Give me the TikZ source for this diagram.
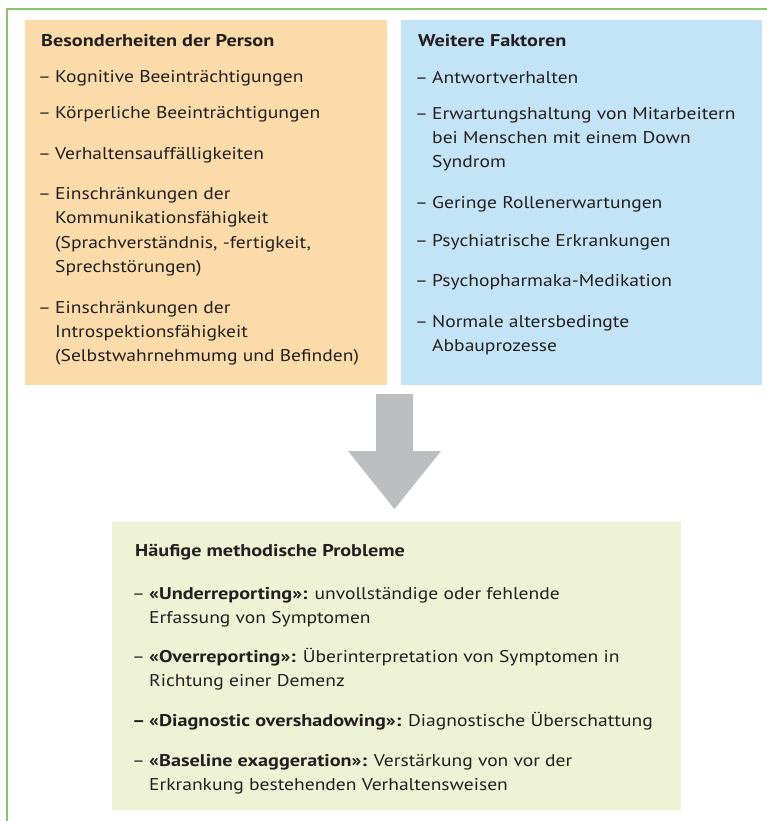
\documentclass[tikz,border=0pt]{standalone}
\usepackage{fontspec}
\setmainfont{PT Sans}[FakeStretch=1.15,BoldFeatures={FakeStretch=1.19}]
\definecolor{frameg}{HTML}{8DC36A}
\definecolor{boxor}{HTML}{FBDBA9}
\definecolor{boxbl}{HTML}{C3E4F6}
\definecolor{boxgr}{HTML}{EEF3D5}
\definecolor{arrowg}{HTML}{BCBEC0}
\definecolor{textc}{HTML}{231F20}
\newcommand\itemlines[1]{\begin{tabular}[t]{@{}l@{}}#1\end{tabular}}
\newcommand\dsh{\makebox[14pt][l]{\kern-3pt–}}
\newcommand\ind{\hspace*{14pt}}
\begin{document}
\begin{tikzpicture}[x=1pt,y=-1pt,
  panel/.style={draw=none, anchor=north west, inner sep=0pt},
  txt/.style={anchor=base west, inner sep=0pt, text=textc,
    font=\fontsize{17}{24}\selectfont},
  head/.style={txt, font=\fontsize{17}{24}\selectfont\bfseries}]
\useasboundingbox (0,0) rectangle (767,821);
% frame lines
\draw[frameg, line width=2pt] (7,821) -- (7,9) -- (767,9);
% panels
\node[panel, fill=boxor, minimum width=362pt, minimum height=365pt] (person) at (25,20) {};
\node[panel, fill=boxbl, minimum width=361pt, minimum height=365pt] (factors) at (401,20) {};
\node[panel, fill=boxgr, minimum width=569pt, minimum height=288pt] (problems) at (112,522) {};
% block arrow
\fill[arrowg] (376,394) -- (413,394) -- (413,451) -- (441,451) -- (394.5,509) -- (348,451) -- (376,451) -- cycle;
% left panel text
\node[head] (p0) at (41,47) {Besonderheiten der Person};
\node[txt] (p1) at (41,83) {\dsh Kognitive Beeinträchtigungen};
\node[txt] (p2) at (41,119) {\dsh Körperliche Beeinträchtigungen};
\node[txt] (p3) at (41,160) {\dsh Verhaltensauffälligkeiten};
\node[txt] (p4) at (41,200) {\itemlines{\dsh Einschränkungen der\\\ind Kommunikationsfähigkeit\\\ind(Sprachverständnis, -fertigkeit,\\\ind Sprechstörungen)}};
\node[txt] (p5) at (41,313) {\itemlines{\dsh Einschränkungen der\\\ind Introspektionsfähigkeit\\\ind(Selbstwahrnehmumg und Befinden)}};
% right panel text
\node[head] (f0) at (418,47) {Weitere Faktoren};
\node[txt] (f1) at (418,84) {\dsh Antwortverhalten};
\node[txt] (f2) at (418,120) {\itemlines{\dsh Erwartungshaltung von Mitarbeitern\\\ind bei Menschen mit einem Down\\\ind Syndrom}};
\node[txt] (f3) at (418,208) {\dsh Geringe Rollenerwartungen};
\node[txt] (f4) at (418,246) {\dsh Psychiatrische Erkrankungen};
\node[txt] (f5) at (418,286) {\dsh Psychopharmaka-Medikation};
\node[txt] (f6) at (418,327) {\itemlines{\dsh Normale altersbedingte\\\ind Abbauprozesse}};
% bottom panel text
\node[head] (m0) at (135,556) {Häufige methodische Probleme};
\node[txt] (m1) at (135,599) {\itemlines{\dsh\textbf{«Underreporting»:} unvollständige oder fehlende\\\ind Erfassung von Symptomen}};
\node[txt] (m2) at (135,662) {\itemlines{\dsh\textbf{«Overreporting»:} Überinterpretation von Symptomen in\\\ind Richtung einer Demenz}};
\node[txt] (m3) at (135,726) {\textbf{\dsh«Diagnostic overshadowing»:} Diagnostische Überschattung};
\node[txt] (m4) at (135,766) {\itemlines{\dsh\textbf{«Baseline exaggeration»:} Verstärkung von vor der\\\ind Erkrankung bestehenden Verhaltensweisen}};
\end{tikzpicture}
\end{document}
